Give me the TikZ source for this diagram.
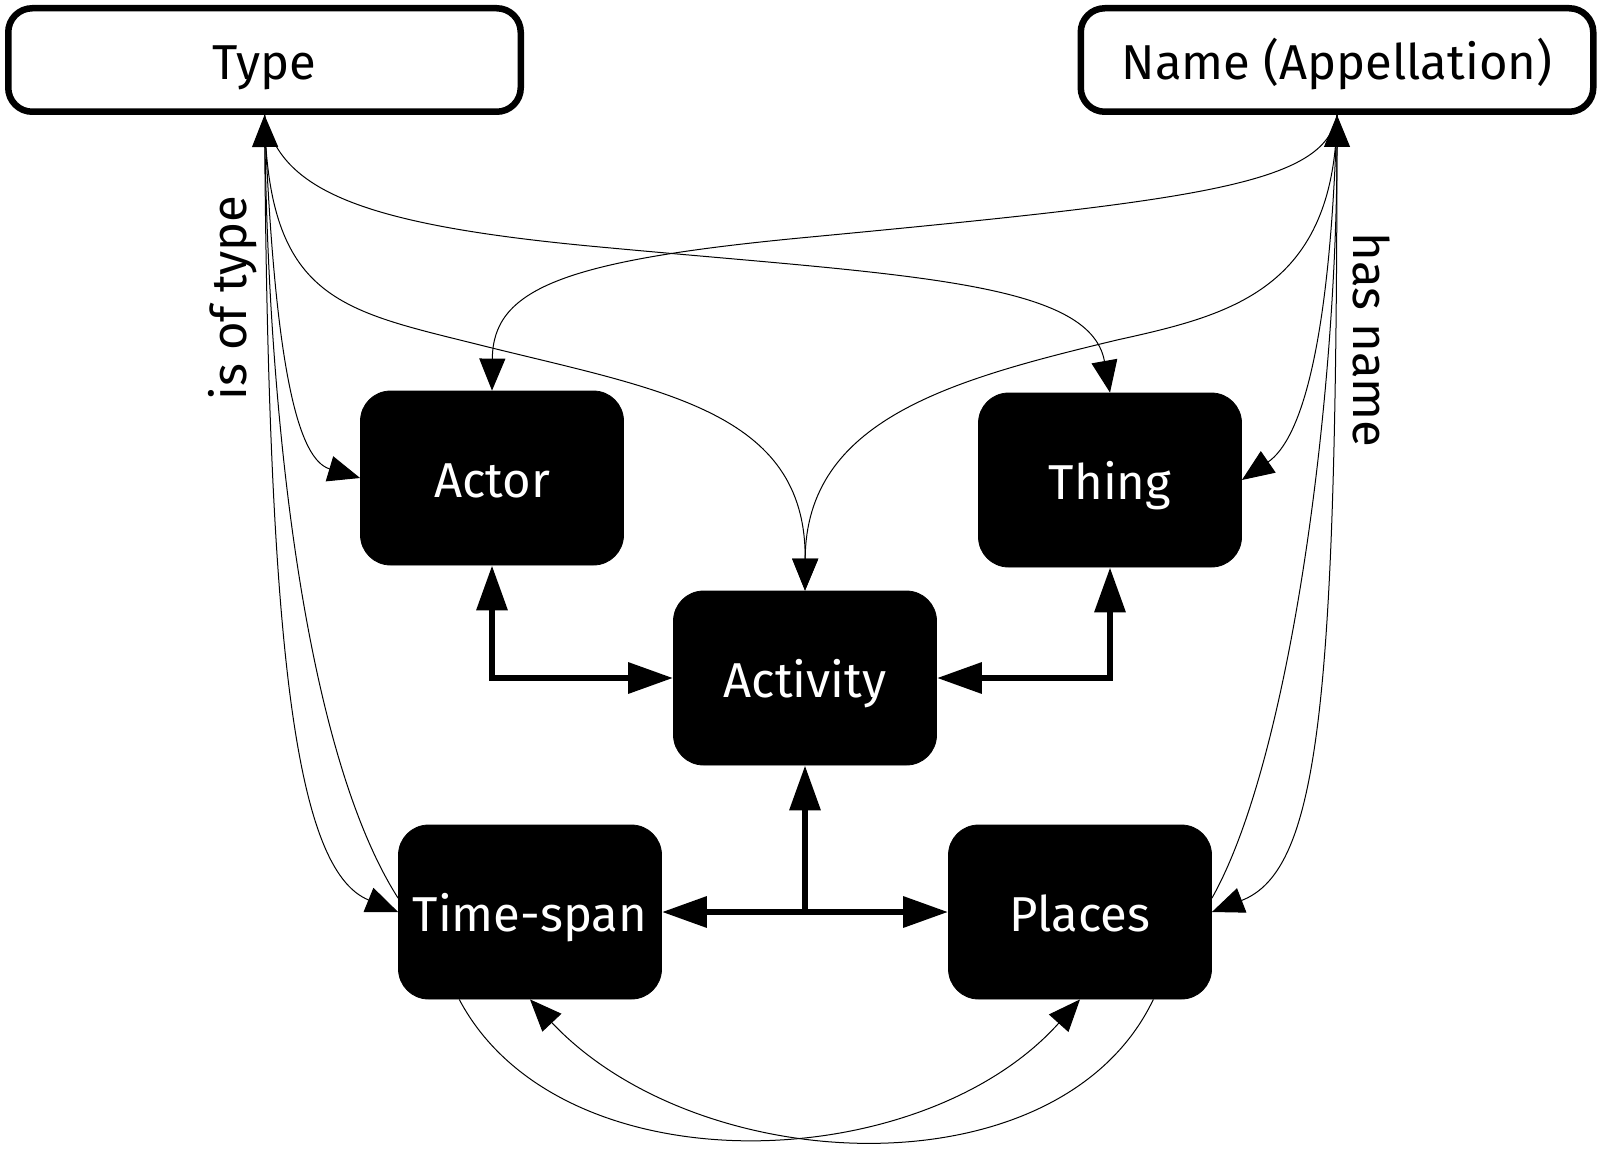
\documentclass[tikz,border=0pt]{standalone}
\usepackage{fontspec}
\setmainfont{Fira Sans}
\usetikzlibrary{arrows.meta}
\begin{document}
\begin{tikzpicture}[x=0.5pt,y=-0.5pt,
  lbl/.style={font=\fontsize{24.5}{29}\selectfont},
  boxtext/.style={lbl, text height=22.5pt, text depth=3pt},
  topbox/.style={draw, line width=3.25pt, rounded corners=12pt, minimum width=256.25pt, minimum height=51.75pt, inner sep=0pt, boxtext},
  blk/.style={fill=black, draw=black, text=white, rounded corners=15pt, minimum width=131.5pt, minimum height=87pt, inner sep=0pt, boxtext},
  conn/.style={line width=0.5pt, -{Triangle[length=16pt,width=13pt]}},
  fattwo/.style={line width=3.25pt, {Triangle[length=22.5pt,width=15pt]}-{Triangle[length=22.5pt,width=15pt]}},
  fatone/.style={line width=3.25pt, -{Triangle[length=22.5pt,width=15pt]}},
]
\useasboundingbox (0,0) rectangle (1600,1150);

\node[topbox] (type) at (264.5,60) {Type};
\node[topbox] (name) at (1337,60) {Name (Appellation)};

\node[blk] (actor) at (492,478) {Actor};
\node[blk] (thing) at (1110,480) {Thing};
\node[blk] (activity) at (805,678) {Activity};
\node[blk] (timespan) at (530,912) {Time-span};
\node[blk] (places) at (1080,912) {Places};

\node[lbl, rotate=90] (isoftype) at (233,298) {is of type};
\node[lbl, rotate=-90] (hasname) at (1372,340) {has name};

% Type side
\draw[conn] (type.south) .. controls (275,380) and (300,460) .. (actor.west);
\draw[conn] (type.south) .. controls (268,650) and (295,870) .. (timespan.west);
\draw[conn] (timespan.174) .. controls (310,760) and (270,450) .. (type.south);
\draw[conn] (type.south) .. controls (268,300) and (340,310) .. (480,345) .. controls (660,390) and (806,410) .. (activity.north);
\draw[conn] (type.south) .. controls (280,190) and (360,225) .. (600,247) .. controls (900,275) and (1090,280) .. (thing.north);

% Name side
\draw[conn] (name.south) .. controls (1325,185) and (1200,200) .. (800,238) .. controls (560,261) and (493,290) .. (actor.north);
\draw[conn] (name.south) .. controls (1335,290) and (1230,315) .. (1117,340) .. controls (950,380) and (806,420) .. (activity.north);
\draw[conn] (name.south) .. controls (1330,350) and (1300,440) .. (thing.east);
\draw[conn] (name.south) .. controls (1337,700) and (1320,870) .. (places.east);
\draw[conn] (places.6) .. controls (1290,760) and (1337,400) .. (name.south);

% bottom
\draw[conn] (timespan.231) .. controls (560,1190) and (920,1178) .. (places.south);
\draw[conn] (places.310) .. controls (1060,1195) and (700,1180) .. (timespan.south);

% thick connectors
\draw[fattwo] (actor.south) |- (activity.west);
\draw[fattwo] (thing.south) |- (activity.east);
\coordinate (junc) at (activity.south |- timespan.east);
\draw[fatone] (junc) -- (activity.south);
\draw[fatone] (junc) -- (timespan.east);
\draw[fatone] (junc) -- (places.west);
\end{tikzpicture}
\end{document}
